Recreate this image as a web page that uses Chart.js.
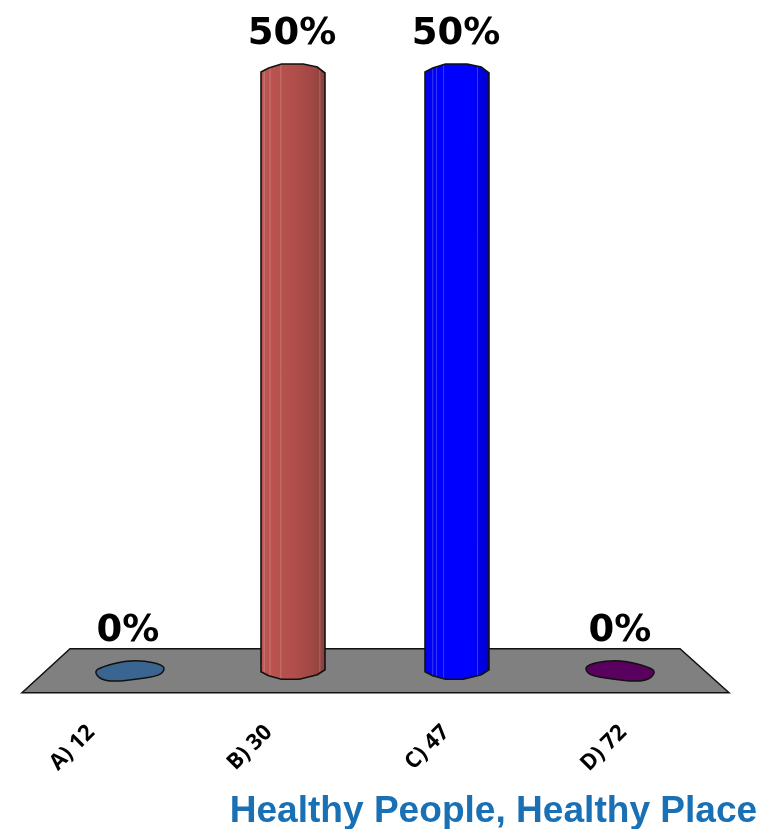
<!DOCTYPE html>
<html lang="en">
<head>
    <meta charset="UTF-8">
    <title>Healthy People, Healthy Place</title>
    <script src="https://cdn.jsdelivr.net/npm/chart.js"></script>
    <style>
        body { margin: 0; padding: 0; background: white; }
        #wrap { position: relative; width: 764px; height: 829px; overflow: hidden; }
        canvas { position: absolute; left: 0; top: 0; }
        #footer {
            position: absolute; right: 7px; top: 789px;
            font: bold 36px "Liberation Sans", Arial, sans-serif;
            color: #1a70b4; white-space: nowrap;
            transform: scaleX(1.03); transform-origin: right center;
        }
    </style>
</head>
<body>
    <div id="wrap">
        <canvas id="pollChart" width="764" height="817"></canvas>
        <div id="footer">Healthy People, Healthy Place</div>
    </div>

    <script>
        const categories = ['A) 12', 'B) 30', 'C) 47', 'D) 72'];
        const percents = [0, 50, 50, 0];
        const barColors = ['#3b6591', '#b5504c', '#0000ff', '#5a005f'];

        function gradientFor(ctx, i, left, right) {
            const g = ctx.createLinearGradient(left, 0, right, 0);
            if (i === 1) {
                g.addColorStop(0, '#bd5652');
                g.addColorStop(0.5, '#b14f4b');
                g.addColorStop(0.8, '#a14844');
                g.addColorStop(1, '#8a403d');
            } else {
                g.addColorStop(0, '#0000e6');
                g.addColorStop(0.15, '#0000ff');
                g.addColorStop(0.75, '#0000ff');
                g.addColorStop(1, '#0000c8');
            }
            return g;
        }

        function drawCylinder(ctx, bar, i) {
            const w = bar.width, left = bar.x - w / 2, right = bar.x + w / 2;
            const top = bar.y, bottom = bar.base;
            const tube = new Path2D();
            tube.moveTo(left, top + 2);
            tube.lineTo(left + w * 0.12, top - 2);
            tube.lineTo(left + w * 0.32, top - 6);
            tube.lineTo(left + w * 0.66, top - 6);
            tube.lineTo(left + w * 0.88, top - 3);
            tube.lineTo(right, top + 3);
            tube.lineTo(right, bottom - 2);
            tube.lineTo(left + w * 0.88, bottom + 3);
            tube.lineTo(left + w * 0.6, bottom + 7.5);
            tube.lineTo(left + w * 0.32, bottom + 7.5);
            tube.lineTo(left + w * 0.12, bottom + 4);
            tube.lineTo(left, bottom);
            tube.closePath();
            ctx.fillStyle = gradientFor(ctx, i, left, right);
            ctx.fill(tube);
            // faint facet lines on the tube
            ctx.save();
            ctx.clip(tube);
            ctx.strokeStyle = 'rgba(255,255,255,0.22)';
            ctx.lineWidth = 1;
            (i === 1 ? [0.05, 0.14, 0.31, 0.92] : [0.12, 0.18, 0.29, 0.82]).forEach(f => {
                ctx.beginPath();
                ctx.moveTo(left + w * f, top - 8);
                ctx.lineTo(left + w * f, bottom + 8);
                ctx.stroke();
            });
            ctx.restore();
            ctx.strokeStyle = '#111';
            ctx.lineWidth = 1.6;
            ctx.stroke(tube);
        }

        function drawBlob(ctx, bar, i) {
            // a zero bar is only the flat end of the tube, tilted to the outside
            const flip = i === 0 ? 1 : -1;
            const pts = [[-35, 0], [-27, -5], [-4, -11], [16, -11], [33, -7], [36, -2], [30, 4], [11, 7], [-14, 10], [-28, 8]]
                .map(p => [bar.x + p[0] * flip, bar.y + p[1]]);
            ctx.beginPath();
            const n = pts.length;
            ctx.moveTo((pts[n - 1][0] + pts[0][0]) / 2, (pts[n - 1][1] + pts[0][1]) / 2);
            pts.forEach((p, k) => {
                const q = pts[(k + 1) % n];
                ctx.quadraticCurveTo(p[0], p[1], (p[0] + q[0]) / 2, (p[1] + q[1]) / 2);
            });
            ctx.closePath();
            ctx.fillStyle = barColors[i];
            ctx.fill();
            ctx.strokeStyle = '#111';
            ctx.lineWidth = 1.5;
            ctx.stroke();
        }

        const pollDrawing = {
            id: 'pollDrawing',
            beforeDatasetsDraw(chart) {
                const ctx = chart.ctx, a = chart.chartArea;
                // grey floor under the tubes
                ctx.beginPath();
                ctx.moveTo(a.left - 25, a.bottom + 21);
                ctx.lineTo(a.right + 26, a.bottom + 21);
                ctx.lineTo(a.right - 23, a.bottom - 23);
                ctx.lineTo(a.left + 23, a.bottom - 23);
                ctx.closePath();
                ctx.fillStyle = '#808080';
                ctx.fill();
                ctx.strokeStyle = '#111';
                ctx.lineWidth = 1.5;
                ctx.stroke();
            },
            afterDatasetsDraw(chart) {
                const ctx = chart.ctx;
                chart.getDatasetMeta(0).data.forEach((bar, i) => {
                    if (percents[i] > 0) drawCylinder(ctx, bar, i);
                    else drawBlob(ctx, bar, i);
                    ctx.fillStyle = '#000';
                    ctx.font = 'bold 37px "DejaVu Sans"';
                    ctx.textAlign = 'center';
                    ctx.textBaseline = 'alphabetic';
                    ctx.fillText(percents[i] + '%', bar.x - 1, bar.y - (percents[i] > 0 ? 26 : 31));
                });
            }
        };

        new Chart(document.getElementById('pollChart').getContext('2d'), {
            type: 'bar',
            data: {
                labels: categories,
                datasets: [{
                    data: percents,
                    backgroundColor: 'rgba(0,0,0,0)',
                    barPercentage: 0.39,
                    categoryPercentage: 1
                }]
            },
            options: {
                responsive: false,
                animation: false,
                layout: { padding: { left: 47, right: 61, top: 70, bottom: 0 } },
                plugins: { legend: { display: false }, tooltip: { enabled: false } },
                scales: {
                    x: { display: false },
                    // label axis: the slanted labels sit at a wider spacing than the tubes
                    xLabels: {
                        type: 'linear',
                        position: 'bottom',
                        offset: false,
                        bounds: 'data',
                        min: -0.25,
                        max: 3.45,
                        afterBuildTicks(axis) {
                            axis.ticks = categories.map((c, i) => ({ value: i }));
                        },
                        border: { display: false },
                        grid: { display: false },
                        ticks: {
                            autoSkip: false,
                            minRotation: 45,
                            maxRotation: 45,
                            padding: 40,
                            color: '#000',
                            font: { family: '"Open Sans"', weight: 'bold', size: 22 },
                            callback: value => categories[value]
                        }
                    },
                    y: { display: false, min: 0, max: 50 }
                }
            },
            plugins: [pollDrawing]
        });
    </script>
</body>
</html>
